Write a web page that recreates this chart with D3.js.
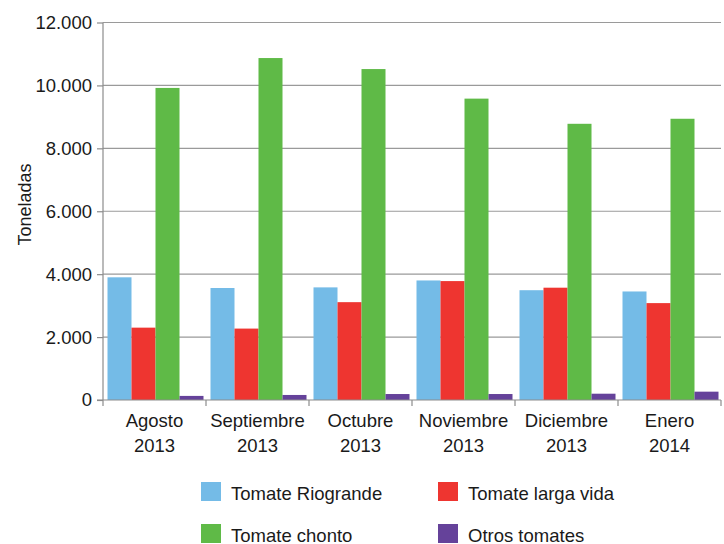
<!DOCTYPE html>
<html>
<head>
<meta charset="utf-8">
<script src="https://cdn.jsdelivr.net/npm/d3@7"></script>
<style>
body { margin: 0; background: #fff; }
text { font-family: "Liberation Sans", Arial, sans-serif; fill: #1a1a1a; }
</style>
</head>
<body>
<div class="chart"></div>
<script>
var months = [["Agosto", "2013"], ["Septiembre", "2013"], ["Octubre", "2013"],
    ["Noviembre", "2013"], ["Diciembre", "2013"], ["Enero", "2014"]];
var seriesNames = ["Tomate Riogrande", "Tomate larga vida", "Tomate chonto", "Otros tomates"];
var riogrande = [3900, 3560, 3580, 3800, 3490, 3450];
var largaVida = [2300, 2270, 3110, 3780, 3570, 3080];
var chonto = [9920, 10870, 10520, 9580, 8780, 8940];
var otros = [130, 160, 190, 190, 200, 265];
var yTicks = [0, 2000, 4000, 6000, 8000, 10000, 12000];

var colors = ["#74bbe7", "#ee3530", "#5fba47", "#65429a"];

var svgWidth = 724;
var svgHeight = 544;
var margin = {top: 22.5, right: 3, bottom: 144, left: 103};
var width = svgWidth - margin.left - margin.right;
var height = svgHeight - margin.top - margin.bottom;
var fontSize = "18.5px";

var svg = d3.select(".chart")
    .append("svg")
    .attr("width", svgWidth)
    .attr("height", svgHeight);

var chart = svg.append("g")
    .attr("transform", `translate(${margin.left},${margin.top})`);

var values = [riogrande, largaVida, chonto, otros];
var data = months.map((m, i) => ({month: m, vals: values.map(s => s[i])}));

var x0 = d3.scaleBand()
    .domain(d3.range(months.length))
    .range([0, width])
    .paddingInner(0);

var x1 = d3.scaleBand()
    .domain(d3.range(seriesNames.length))
    .range([4.5, x0.bandwidth() - 2.5]);

var y = d3.scaleLinear()
    .domain([0, 12000])
    .range([height, 0]);

var fmt = d => d3.format(",")(d).replace(/,/g, ".");

// gridlines
chart.append("g")
    .selectAll("line")
    .data(yTicks.slice(1))
    .enter()
    .append("line")
    .attr("x1", 0)
    .attr("x2", width)
    .attr("y1", d => y(d))
    .attr("y2", d => y(d))
    .attr("stroke", "#9a9a9a")
    .attr("stroke-width", 1.2);

// bars
var groups = chart.selectAll(".grp")
    .data(data)
    .enter()
    .append("g")
    .attr("class", "grp")
    .attr("transform", (d, i) => `translate(${x0(i)},0)`);

groups.selectAll("rect")
    .data(d => d.vals)
    .enter()
    .append("rect")
    .attr("x", (d, j) => x1(j))
    .attr("width", x1.bandwidth())
    .attr("y", d => y(d))
    .attr("height", d => height - y(d))
    .attr("fill", (d, j) => colors[j]);

// y axis
var yAxis = d3.axisLeft(y)
    .tickValues(yTicks)
    .tickFormat(fmt)
    .tickSize(6)
    .tickPadding(5);

var yG = chart.append("g").call(yAxis);
yG.select(".domain").attr("stroke", "#8c8c8c").attr("stroke-width", 1.2).attr("d", `M0,${height}V0`);
yG.selectAll(".tick line").attr("stroke", "#8c8c8c").attr("stroke-width", 1.2);
yG.selectAll(".tick text")
    .style("font-size", fontSize)
    .style("font-family", "Liberation Sans, Arial, sans-serif")
    .attr("fill", "#1a1a1a");

// x axis
var xG = chart.append("g").attr("transform", `translate(0,${height})`);
xG.append("line")
    .attr("x1", -6).attr("x2", width)
    .attr("stroke", "#8c8c8c").attr("stroke-width", 1.2);
xG.selectAll(".xt")
    .data(d3.range(months.length + 1))
    .enter()
    .append("line")
    .attr("x1", d => d * x0.bandwidth())
    .attr("x2", d => d * x0.bandwidth())
    .attr("y1", 0).attr("y2", 6)
    .attr("stroke", "#8c8c8c").attr("stroke-width", 1.2);

var lbl = xG.selectAll(".xl")
    .data(months)
    .enter()
    .append("text")
    .attr("text-anchor", "middle")
    .attr("transform", (d, i) => `translate(${x0(i) + x0.bandwidth() / 2},0)`)
    .style("font-size", fontSize);
lbl.append("tspan").attr("x", 0).attr("y", 26.5).text(d => d[0]);
lbl.append("tspan").attr("x", 0).attr("y", 51.5).text(d => d[1]);

// y label
svg.append("text")
    .attr("transform", `translate(31,204.5) rotate(-90)`)
    .attr("text-anchor", "middle")
    .style("font-size", "18px")
    .text("Toneladas");

// legend
var legPos = [[201, 482], [438, 482], [201, 524], [438, 524]];
var leg = svg.selectAll(".leg")
    .data(seriesNames)
    .enter()
    .append("g")
    .attr("transform", (d, i) => `translate(${legPos[i][0]},${legPos[i][1]})`);
leg.append("rect")
    .attr("width", 20).attr("height", 19)
    .attr("fill", (d, i) => colors[i]);
leg.append("text")
    .attr("x", 30).attr("y", 17.5)
    .style("font-size", fontSize)
    .text(d => d);
</script>
</body>
</html>
